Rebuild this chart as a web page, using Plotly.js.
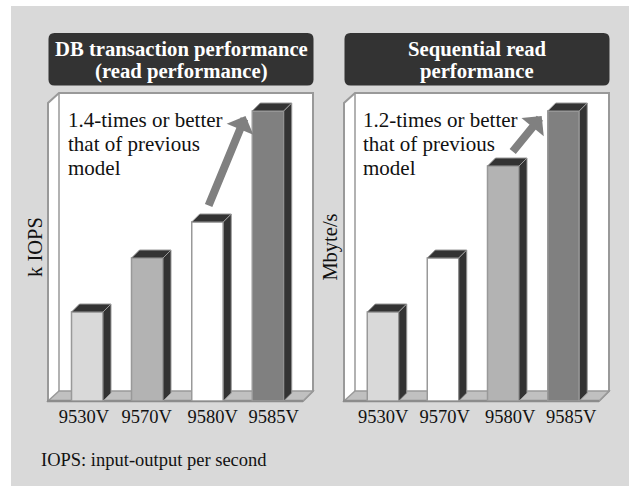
<!DOCTYPE html>
<html>
<head>
<meta charset="utf-8">
<script src="https://cdn.plot.ly/plotly-3.0.1.min.js"></script>
<style>html,body{margin:0;padding:0;background:#fff}#c{width:629px;height:486px}</style>
</head>
<body>
<div id="c"></div>
<script>
// ---- data ----
const categories = ['9530V', '9570V', '9580V', '9585V'];
const dbValues = [89, 143, 179, 290];
const seqValues = [89, 143, 235, 290];
const dbColors = ['#d9d9d9', '#b3b3b3', '#ffffff', '#808080'];
const seqColors = ['#d9d9d9', '#ffffff', '#b3b3b3', '#808080'];
const dbTitle = ['DB transaction performance', '(read performance)'];
const seqTitle = ['Sequential read', 'performance'];
const dbNote = ['1.4-times or better', 'that of previous', 'model'];
const seqNote = ['1.2-times or better', 'that of previous', 'model'];
const footnote = 'IOPS: input-output per second';

// ---- layout constants (pixels of the 629x486 page) ----
const W = 629, H = 486, SERIF = '"Liberation Serif","Times New Roman",serif';
const FLOOR = 401, TOP = 93;
const UNIT = 60.2, BAR = 31.5, DX = 8, DY = 8, WALL = 11, WALLY = 10;
const BORDER = '#999999', INK = '#111111';

const panels = [
  {s: '', left: 48, right: 313, nudge: 2, c0: 87.25, step: [0, 60, 120.25, 180.75], lab: [84, 146.7, 212.7, 273.7],
   vals: dbValues, cols: dbColors, ytitle: 'k IOPS', title: dbTitle, note: dbNote, noteX: 66,
   tail: [208, 207], tip: [245.5, 116]},
  {s: '2', left: 344, right: 609, nudge: 1, c0: 383, step: [0, 60, 120.25, 180.5], lab: [383.3, 444.7, 510.3, 571.3],
   vals: seqValues, cols: seqColors, ytitle: 'Mbyte/s', title: seqTitle, note: seqNote, noteX: 361,
   tail: [511.5, 153], tip: [541.7, 116]}
];

const fx = v => v / W, fy = v => 1 - v / H;
const paperPoly = pts => 'M' + pts.map(q => fx(q[0]) + ',' + fy(q[1])).join('L') + 'Z';

const traces = [], shapes = [], annotations = [];
const layout = {
  width: W, height: H, margin: {l: 0, r: 0, t: 0, b: 0},
  paper_bgcolor: '#ffffff', plot_bgcolor: 'rgba(0,0,0,0)',
  showlegend: false, font: {family: SERIF, color: INK},
  bargap: 0
};

// page background
shapes.push({type: 'rect', xref: 'paper', yref: 'paper', layer: 'below',
  x0: 11 / W, x1: 1, y0: 0, y1: 1 - 6 / H, line: {width: 0}, fillcolor: '#d9d9d9'});

panels.forEach(p => {
  const xa = 'x' + p.s, ya = 'y' + p.s;
  const X = px => (px - p.c0) / UNIT;
  const Y = py => FLOOR - py;
  const pos = categories.map((_, i) => p.step[i] / UNIT);
  const bw = BAR / UNIT, ddx = DX / UNIT;
  const L = p.left, R = p.right;

  layout['xaxis' + p.s] = {
    domain: [(L + p.nudge) / W, R / W], range: [X(L + p.nudge), X(R)], anchor: ya,
    tickmode: 'array', tickvals: p.lab.map(X), ticktext: categories,
    tickfont: {family: SERIF, size: 18.5, color: INK},
    ticks: '', ticklabelstandoff: 2,
    showgrid: false, zeroline: false, showline: false, fixedrange: true
  };
  layout['yaxis' + p.s] = {
    domain: [1 - FLOOR / H, 1 - TOP / H], range: [0, FLOOR - TOP], anchor: xa,
    showticklabels: false, ticks: '', showgrid: false, zeroline: false, showline: false, fixedrange: true,
    title: {text: p.ytitle, font: {family: SERIF, size: 20.5, color: INK}, standoff: 0}
  };

  const common = {xref: 'paper', yref: 'paper', layer: 'below'};
  // frame: white walls
  shapes.push(Object.assign({}, common, {type: 'path', fillcolor: '#ffffff', line: {color: BORDER, width: 2},
    path: paperPoly([[L, FLOOR], [L, TOP + WALLY], [L + WALL, TOP], [R, TOP], [R, FLOOR - WALLY], [R - WALLY, FLOOR]])}));
  // floor
  shapes.push(Object.assign({}, common, {type: 'path', fillcolor: '#c0c0c0', line: {color: BORDER, width: 1.5},
    path: paperPoly([[L, FLOOR], [L + WALL, FLOOR - WALLY], [R, FLOOR - WALLY], [R - WALLY, FLOOR]])}));
  // inner back-left wall edge
  shapes.push(Object.assign({}, common, {type: 'line', line: {color: BORDER, width: 1.5},
    x0: fx(L + WALL), x1: fx(L + WALL), y0: fy(TOP), y1: fy(FLOOR - WALLY)}));
  // front edge of floor
  shapes.push(Object.assign({}, common, {type: 'line', line: {color: '#8c8c8c', width: 2.5},
    x0: fx(L - 1), x1: fx(R - WALLY), y0: fy(FLOOR), y1: fy(FLOOR)}));

  // front faces
  traces.push({type: 'bar', xaxis: xa, yaxis: ya, x: pos, y: p.vals, width: bw, base: 0,
    marker: {color: p.cols, line: {color: BORDER, width: 1.5}}, hoverinfo: 'skip', cliponaxis: false});

  // dark top and side faces, derived from the values
  p.vals.forEach((v, i) => {
    const x0 = pos[i] - bw / 2, x1 = pos[i] + bw / 2;
    traces.push({type: 'scatter', mode: 'lines', xaxis: xa, yaxis: ya, fill: 'toself', fillcolor: '#333333',
      line: {color: BORDER, width: 1}, hoverinfo: 'skip', cliponaxis: false,
      x: [x0, x0 + ddx, x1 + ddx, x1, x0], y: [v, v + DY, v + DY, v, v]});
    traces.push({type: 'scatter', mode: 'lines', xaxis: xa, yaxis: ya, fill: 'toself', fillcolor: '#333333',
      line: {color: BORDER, width: 1}, hoverinfo: 'skip', cliponaxis: false,
      x: [x1, x1 + ddx, x1 + ddx, x1, x1], y: [v, v + DY, DY, 0, v]});
  });

  // title banner
  const bx0 = L + 0.5, bx1 = R + 0.5, by0 = 33, by1 = 85.5, r = 6;
  shapes.push({type: 'path', xref: 'paper', yref: 'paper', fillcolor: '#333333', line: {width: 0}, layer: 'below',
    path: `M${fx(bx0 + r)},${fy(by0)}L${fx(bx1 - r)},${fy(by0)}Q${fx(bx1)},${fy(by0)} ${fx(bx1)},${fy(by0 + r)}` +
          `L${fx(bx1)},${fy(by1 - r)}Q${fx(bx1)},${fy(by1)} ${fx(bx1 - r)},${fy(by1)}` +
          `L${fx(bx0 + r)},${fy(by1)}Q${fx(bx0)},${fy(by1)} ${fx(bx0)},${fy(by1 - r)}` +
          `L${fx(bx0)},${fy(by0 + r)}Q${fx(bx0)},${fy(by0)} ${fx(bx0 + r)},${fy(by0)}Z`});
  p.title.forEach((t, i) => annotations.push({xref: 'paper', yref: 'paper', x: fx((bx0 + bx1) / 2), y: fy(49 + i * 22),
    xanchor: 'center', yanchor: 'middle', showarrow: false, text: '<b>' + t + '</b>',
    font: {family: SERIF, size: 20.7, color: '#ffffff'}}));

  // note
  p.note.forEach((t, i) => annotations.push({xref: 'paper', yref: 'paper', x: fx(p.noteX), y: fy(119.5 + i * 24.3),
    xanchor: 'left', yanchor: 'middle', showarrow: false, text: t, font: {family: SERIF, size: 21, color: INK}}));

  // growth arrow
  annotations.push({xref: xa, yref: ya, x: X(p.tip[0]), y: Y(p.tip[1]), text: '', showarrow: true,
    ax: p.tail[0] - p.tip[0], ay: p.tail[1] - p.tip[1], axref: 'pixel', ayref: 'pixel',
    arrowhead: 1, arrowsize: 0.6, arrowwidth: 8, arrowcolor: '#808080', standoff: 0, startstandoff: 0});
});

annotations.push({xref: 'paper', yref: 'paper', x: 39 / W, y: 1 - 460 / H, xanchor: 'left', yanchor: 'middle',
  showarrow: false, text: footnote, font: {family: SERIF, size: 18.5, color: INK}});

layout.shapes = shapes;
layout.annotations = annotations;
Plotly.newPlot('c', traces, layout, {displayModeBar: false, staticPlot: true});
</script>
</body>
</html>
